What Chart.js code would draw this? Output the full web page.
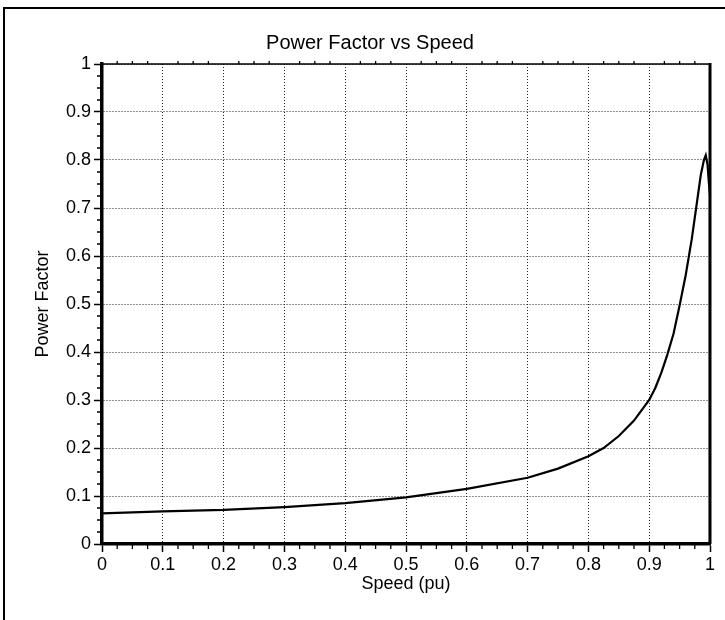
<!DOCTYPE html>
<html>
<head>
<meta charset="utf-8">
<script src="https://cdn.jsdelivr.net/npm/chart.js@4.4.1/dist/chart.umd.min.js"></script>
<style>
    html, body { margin: 0; padding: 0; background: #fff; overflow: hidden; }
    canvas { display: block; }
</style>
</head>
<body>
<canvas id="pfChart" width="725" height="620"></canvas>
<script>
const speed       = [0,     0.1,   0.2,   0.3,   0.4,   0.5,   0.6,   0.7,   0.75,  0.8,   0.825, 0.85,  0.875, 0.9,  0.91,  0.92,  0.93,  0.94,  0.95,  0.96,  0.97,  0.98,  0.985, 0.99, 0.993, 0.996, 0.998, 1.0,   1.0];
const powerFactor = [0.064, 0.068, 0.071, 0.077, 0.085, 0.097, 0.115, 0.138, 0.157, 0.183, 0.200, 0.225, 0.257, 0.30, 0.325, 0.357, 0.395, 0.438, 0.497, 0.560, 0.635, 0.725, 0.77,  0.80, 0.81,  0.79,  0.755, 0.725, 0];

const xTicks = [0, 0.1, 0.2, 0.3, 0.4, 0.5, 0.6, 0.7, 0.8, 0.9, 1];
const yTicks = [0, 0.1, 0.2, 0.3, 0.4, 0.5, 0.6, 0.7, 0.8, 0.9, 1];

Chart.defaults.font.family = '"Liberation Sans", Arial, sans-serif';
Chart.defaults.color = '#000';

// edge of the scanned page
const pageEdge = {
    id: 'pageEdge',
    beforeDraw(chart) {
        const { ctx } = chart;
        ctx.save();
        ctx.strokeStyle = '#000';
        ctx.lineWidth = 2;
        ctx.beginPath();
        ctx.moveTo(4, chart.height);
        ctx.lineTo(4, 8);
        ctx.lineTo(chart.width, 8);
        ctx.stroke();
        ctx.restore();
    }
};

// minor ticks (quarters) and the thin top / thick right frame lines
const frameAndMinorTicks = {
    id: 'frameAndMinorTicks',
    afterDraw(chart) {
        const { ctx, chartArea: a, scales: { x, y } } = chart;
        ctx.save();
        ctx.strokeStyle = '#000';
        ctx.lineWidth = 1.3;
        ctx.beginPath();
        for (let i = 1; i < 40; i++) {
            if (i % 4 === 0) continue;
            const v = i / 40;
            const px = x.getPixelForValue(v);
            ctx.moveTo(px, a.bottom);
            ctx.lineTo(px, a.bottom + 5);
            ctx.moveTo(px, a.top);
            ctx.lineTo(px, a.top - 3);
            const py = y.getPixelForValue(v);
            ctx.moveTo(a.left, py);
            ctx.lineTo(a.left - 5, py);
        }
        ctx.stroke();

        ctx.lineWidth = 1.6;
        ctx.beginPath();
        ctx.moveTo(a.left, a.top);
        ctx.lineTo(a.right, a.top);
        ctx.stroke();

        ctx.lineWidth = 3;
        ctx.beginPath();
        ctx.moveTo(a.right, a.top - 1);
        ctx.lineTo(a.right, a.bottom);
        ctx.stroke();
        ctx.restore();
    }
};

const ctx = document.getElementById('pfChart').getContext('2d');
new Chart(ctx, {
    type: 'scatter',
    data: {
        datasets: [{
            label: 'Power Factor',
            data: speed.map((s, i) => ({ x: s, y: powerFactor[i] })),
            showLine: true,
            borderColor: '#000',
            borderWidth: 2.2,
            pointRadius: 0,
            tension: 0
        }]
    },
    options: {
        responsive: false,
        animation: false,
        layout: { padding: { left: 30, right: 15, top: 0, bottom: 0 } },
        plugins: {
            legend: { display: false },
            tooltip: { enabled: false },
            title: {
                display: true,
                text: 'Power Factor vs Speed',
                font: { size: 20, weight: 'normal' },
                padding: { top: 31, bottom: 9 }
            }
        },
        scales: {
            x: {
                type: 'linear',
                min: 0,
                max: 1,
                afterBuildTicks: s => { s.ticks = xTicks.map(v => ({ value: v })); },
                afterFit: s => { s.height = 76; },
                ticks: { font: { size: 18 }, padding: 2, maxRotation: 0, callback: v => String(v) },
                grid: { color: '#222', lineWidth: 1, tickLength: 8, tickColor: '#000', tickWidth: 1.5 },
                border: { display: true, color: '#000', width: 3.5, dash: [1, 2] },
                title: { display: true, text: 'Speed (pu)', font: { size: 18 }, padding: { top: 0, bottom: 25 } }
            },
            y: {
                type: 'linear',
                min: 0,
                max: 1,
                afterBuildTicks: s => { s.ticks = yTicks.map(v => ({ value: v })); },
                afterFit: s => { s.width = 72; },
                ticks: { font: { size: 18 }, padding: 3, callback: v => String(v) },
                grid: { color: '#222', lineWidth: 1, tickLength: 8, tickColor: '#000', tickWidth: 1.5 },
                border: { display: true, color: '#000', width: 3.5, dash: [1, 2] },
                title: { display: true, text: 'Power Factor', font: { size: 18 }, padding: { top: 2, bottom: 0 } }
            }
        }
    },
    plugins: [pageEdge, frameAndMinorTicks]
});
</script>
</body>
</html>
